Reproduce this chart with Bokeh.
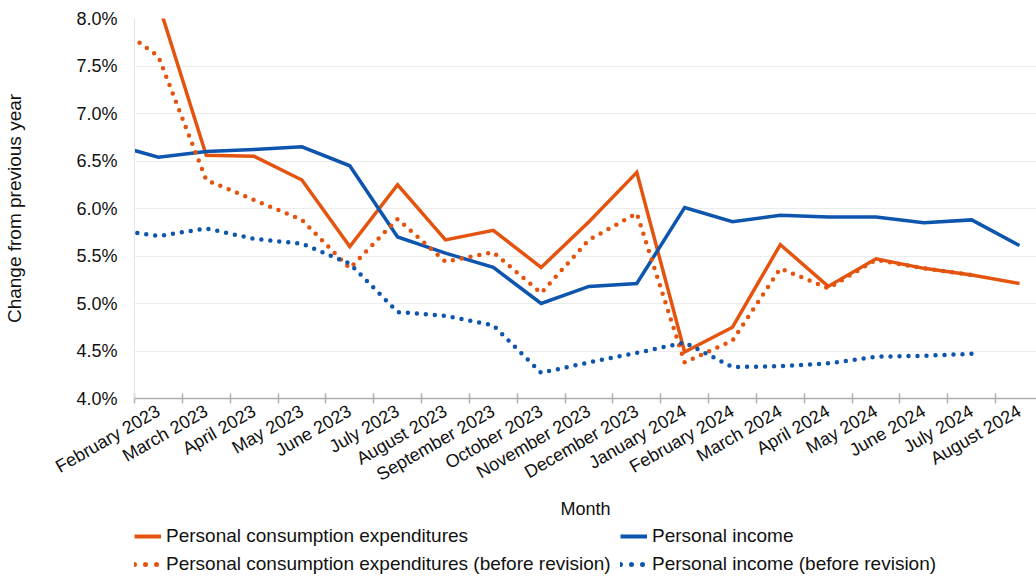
import numpy as np
from math import pi
from bokeh.plotting import figure
from bokeh.layouts import column
from bokeh.models import FixedTicker, Range1d, Legend, LegendItem
from bokeh.embed import file_html
from bokeh.resources import INLINE

# Months (January 2023 lies just left of the visible window; its segment is clipped)
months = ["January 2023", "February 2023", "March 2023", "April 2023", "May 2023",
          "June 2023", "July 2023", "August 2023", "September 2023", "October 2023",
          "November 2023", "December 2023", "January 2024", "February 2024",
          "March 2024", "April 2024", "May 2024", "June 2024", "July 2024",
          "August 2024"]

pce = [8.40, 8.16, 6.56, 6.55, 6.30, 5.60, 6.25, 5.67, 5.77, 5.38, 5.86, 6.38,
       4.49, 4.75, 5.62, 5.18, 5.47, 5.37, 5.30, 5.21]
personal_income = [6.68, 6.54, 6.60, 6.62, 6.65, 6.45, 5.70, 5.53, 5.38, 5.00, 5.18,
                   5.21, 6.01, 5.86, 5.93, 5.91, 5.91, 5.85, 5.88, 5.61]
pce_before = [7.97, 7.60, 6.30, 6.09, 5.88, 5.37, 5.89, 5.44, 5.54, 5.11, 5.67, 5.95,
              4.38, 4.61, 5.37, 5.16, 5.46, 5.37, 5.30, np.nan]
income_before = [5.78, 5.71, 5.79, 5.68, 5.63, 5.42, 4.91, 4.87, 4.77, 4.27, 4.38,
                 4.48, 4.59, 4.33, 4.34, 4.37, 4.44, 4.45, 4.47, np.nan]

y_ticks = [4.0, 4.5, 5.0, 5.5, 6.0, 6.5, 7.0, 7.5, 8.0]
y_tick_labels = ["4.0%", "4.5%", "5.0%", "5.5%", "6.0%", "6.5%", "7.0%", "7.5%", "8.0%"]

series_labels = ["Personal consumption expenditures", "Personal income",
                 "Personal consumption expenditures (before revision)",
                 "Personal income (before revision)"]

ORANGE = "#e4540f"
BLUE = "#0d55ad"
FONT = "Liberation Sans"
FS = "18px"
TXT = "#111111"

SOLID = dict(line_width=3.5, line_join="miter")
DOTTED = dict(line_width=4.5, line_dash="0 9", line_cap="round")

x = np.arange(len(months)) - 0.5   # category centres; February 2023 at 0.5
visible = months[1:]
label_pos = [i + 0.5 for i in range(len(visible))]
boundaries = list(range(len(visible) + 1))

p = figure(width=1036, height=522, output_backend="svg", toolbar_location=None,
           x_range=Range1d(0, 18.855), y_range=Range1d(4.0, 8.0),
           min_border_left=134, min_border_right=0, min_border_top=18,
           min_border_bottom=124)
p.outline_line_color = None
p.background_fill_color = "white"
p.border_fill_color = "white"

p.line(x, pce, color=ORANGE, **SOLID)
p.line(x, personal_income, color=BLUE, **SOLID)
p.line(x, pce_before, color=ORANGE, **DOTTED)
p.line(x, income_before, color=BLUE, **DOTTED)

# y axis
yax = p.yaxis[0]
yax.ticker = FixedTicker(ticks=y_ticks)
yax.major_label_overrides = dict(zip(y_ticks, y_tick_labels))
yax.axis_line_color = "#e3e3e3"
yax.major_tick_in = 0
yax.major_tick_out = 0
yax.minor_tick_line_color = None
yax.major_label_standoff = 17
yax.major_label_text_font = FONT
yax.major_label_text_font_size = FS
yax.major_label_text_color = TXT
yax.axis_label = "Change from previous year"
yax.axis_label_text_font = FONT
yax.axis_label_text_font_size = "19px"
yax.axis_label_text_font_style = "normal"
yax.axis_label_text_color = TXT
yax.axis_label_standoff = 48

# x axis
xax = p.xaxis[0]
xax.ticker = FixedTicker(ticks=label_pos, minor_ticks=boundaries)
xax.major_label_overrides = dict(zip(label_pos, visible))
xax.major_tick_in = 0
xax.major_tick_out = 0
xax.minor_tick_in = 5
xax.minor_tick_out = 5
xax.minor_tick_line_color = "#b0b0b0"
xax.minor_tick_line_width = 1.5
xax.axis_line_color = "#b0b0b0"
xax.axis_line_width = 1.5
xax.major_label_orientation = pi / 6
xax.major_label_standoff = 6
xax.major_label_text_font = FONT
xax.major_label_text_font_size = FS
xax.major_label_text_color = TXT
xax.axis_label = "Month"
xax.axis_label_text_font = FONT
xax.axis_label_text_font_size = FS
xax.axis_label_text_font_style = "normal"
xax.axis_label_text_color = TXT
xax.axis_label_standoff = 3

p.xgrid.grid_line_color = None
p.ygrid.ticker = FixedTicker(ticks=y_ticks)
p.ygrid.grid_line_color = "#ececec"
p.ygrid.grid_line_width = 1

# Legend strip underneath the chart (its frame is aligned with the chart's frame)
pl = figure(width=1036, height=59, output_backend="svg", toolbar_location=None,
            x_axis_location=None, y_axis_location=None,
            x_range=Range1d(0, 1), y_range=Range1d(0, 1),
            min_border_left=0, min_border_right=0, min_border_top=0,
            min_border_bottom=0)
pl.outline_line_color = None
pl.xgrid.visible = False
pl.ygrid.visible = False
pl.border_fill_color = "white"

# key renderers sit outside the strip's visible range; only their legend glyphs show
k_pce = pl.line([-5, -4], [-5, -4], color=ORANGE, line_width=4)
k_pi = pl.line([-5, -4], [-5, -4], color=BLUE, line_width=4)
k_pceb = pl.line([-5, -4], [-5, -4], color=ORANGE, line_width=5, line_dash="0 11",
                 line_cap="round")
k_pib = pl.line([-5, -4], [-5, -4], color=BLUE, line_width=5, line_dash="0 11",
                line_cap="round")


def make_legend(items, loc):
    lg = Legend(items=items, orientation="vertical", location=loc)
    lg.label_text_font = FONT
    lg.label_text_font_size = "19px"
    lg.label_text_color = TXT
    lg.glyph_width = 27
    lg.glyph_height = 20
    lg.label_height = 20
    lg.label_standoff = 5
    lg.spacing = 6
    lg.padding = 0
    lg.margin = 0
    lg.border_line_color = None
    lg.background_fill_alpha = 0
    return lg


leg1 = make_legend([
    LegendItem(label=series_labels[0], renderers=[k_pce]),
    LegendItem(label=series_labels[2], renderers=[k_pceb]),
], (0, 6))
leg2 = make_legend([
    LegendItem(label=series_labels[1], renderers=[k_pi]),
    LegendItem(label=series_labels[3], renderers=[k_pib]),
], (486, 6))
pl.add_layout(leg1)
pl.add_layout(leg2)

layout = column(p, pl, spacing=0)
open("out.html", "w").write(file_html(layout, INLINE))
